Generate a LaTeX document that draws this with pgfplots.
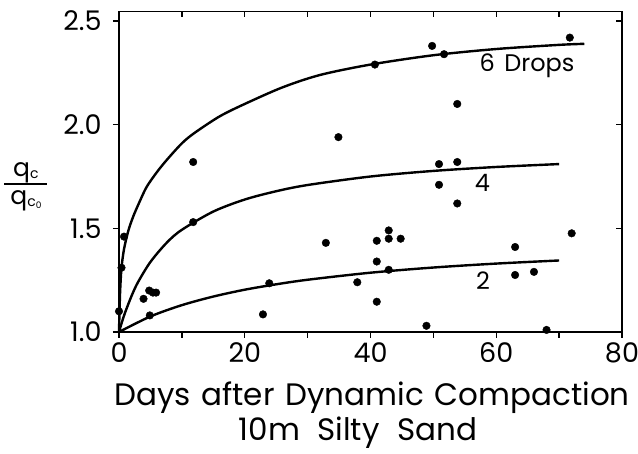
\documentclass[border=0pt]{standalone}
\usepackage{pgfplots}
\pgfplotsset{compat=1.18}
\usepackage{fontspec}
\setmainfont{Poppins}

% scatter observations (days, qc/qc0)
\pgfplotstableread{
t     r
0.0   1.10
0.4   1.31
0.8   1.46
3.9   1.16
4.8   1.20
5.4   1.19
5.9   1.19
4.9   1.08
11.8  1.82
11.8  1.53
22.9  1.085
23.9  1.235
32.9  1.43
34.9  1.94
37.9  1.24
40.7  2.29
41.0  1.44
41.0  1.34
41.0  1.146
42.9  1.49
42.9  1.45
42.9  1.30
44.8  1.45
48.9  1.03
49.8  2.38
50.9  1.81
50.9  1.71
51.7  2.34
53.8  2.10
53.8  1.82
53.8  1.62
63.0  1.41
63.0  1.275
66.0  1.29
68.0  1.01
71.7  2.42
72.0  1.476
}\obs

\begin{document}
\begin{tikzpicture}
\path[use as bounding box] (-119pt,-122pt) rectangle (519pt,332pt);
\begin{axis}[
    scale only axis,
    width=503pt, height=320.5pt,
    xmin=0, xmax=80,
    ymin=1.0, ymax=2.546,
    xtick={0,20,40,60,80},
    minor xtick={10,30,50,70},
    ytick={1.0,1.5,2.0,2.5},
    xtick pos=lower, ytick pos=left,
    tick align=outside,
    major tick length=6pt, minor tick length=6pt,
    tick style={line width=1.3pt, black},
    axis line style={line width=1.5pt},
    /pgf/number format/assume math mode=true,
    yticklabel style={/pgf/number format/fixed, /pgf/number format/fixed zerofill,
        /pgf/number format/precision=1, font=\fontsize{27}{30}\selectfont, xshift=-8pt},
    xticklabel style={font=\fontsize{27}{30}\selectfont, yshift=-1pt},
    clip=false,
]
\addplot[black, line width=2.4pt, smooth] coordinates {
    (0,1.0) (0.1,1.12) (0.2,1.21) (0.4,1.31) (0.8,1.40) (1.5,1.49) (2.3,1.56)
    (3.3,1.63) (4.4,1.70) (6,1.77) (7.6,1.83) (10,1.91) (12,1.96) (16,2.04)
    (20,2.10) (26,2.18) (32,2.24) (40,2.29) (50,2.335) (60,2.365) (70,2.385) (74,2.39)
};
\addplot[black, line width=2.4pt, smooth] coordinates {
    (0,1.0) (0.5,1.051) (1,1.0965) (2,1.174) (3,1.239) (5,1.338) (7.6,1.431)
    (10,1.493) (15,1.581) (20,1.639) (25,1.679) (30,1.709) (40,1.750)
    (50,1.777) (60,1.796) (70,1.810)
};
\addplot[black, line width=2.4pt, smooth] coordinates {
    (0,1.0) (5,1.075) (10,1.1295) (15,1.171) (20,1.204) (25,1.230) (30,1.252)
    (40,1.286) (50,1.311) (60,1.330) (70,1.345)
};
\addplot[only marks, mark=*, mark size=3.8pt, black] table[x=t, y=r] {\obs};

\node[font=\fontsize{24}{26}\selectfont] at (axis cs:64.9,2.283) {6\hspace{0.4em}Drops};
\node[font=\fontsize{24}{26}\selectfont] at (axis cs:57.8,1.72) {4};
\node[font=\fontsize{24}{26}\selectfont] at (axis cs:57.9,1.246) {2};

\node[font=\fontsize{31}{34}\selectfont, anchor=base] at (rel axis cs:0.503,-0.228)
    {Days\hspace{0.08em} after\hspace{0.08em} Dynamic\hspace{0.08em} Compaction};
\node[font=\fontsize{31}{34}\selectfont, anchor=base] at (rel axis cs:0.475,-0.337)
    {10m\hspace{0.3em} Silty\hspace{0.3em} Sand};

% y label: q_c over q_c0
\node[anchor=base, font=\fontsize{25}{25}\selectfont, inner sep=0pt] at (rel axis cs:-0.185,0.484)
    {q\raisebox{-2pt}{\fontsize{14}{14}\selectfont c}};
\draw[line width=1.4pt] (rel axis cs:-0.228,0.462) -- (rel axis cs:-0.143,0.462);
\node[anchor=base, font=\fontsize{25}{25}\selectfont, inner sep=0pt] at (rel axis cs:-0.185,0.398)
    {q\raisebox{-2pt}{\fontsize{14}{14}\selectfont c\raisebox{-2pt}{\fontsize{9}{9}\selectfont 0}}};
\end{axis}
\begin{axis}[
    scale only axis,
    width=503pt, height=320.5pt,
    xmin=0, xmax=80,
    ymin=1.0, ymax=2.546,
    xtick={0,10,...,80},
    ytick={1.0,1.5,2.0,2.5},
    xtick pos=upper, ytick pos=right,
    tick align=inside,
    major tick length=6pt,
    tick style={line width=1.3pt, black},
    axis line style={line width=1.5pt},
    xticklabels={}, yticklabels={},
]
\end{axis}
\end{tikzpicture}
\end{document}
